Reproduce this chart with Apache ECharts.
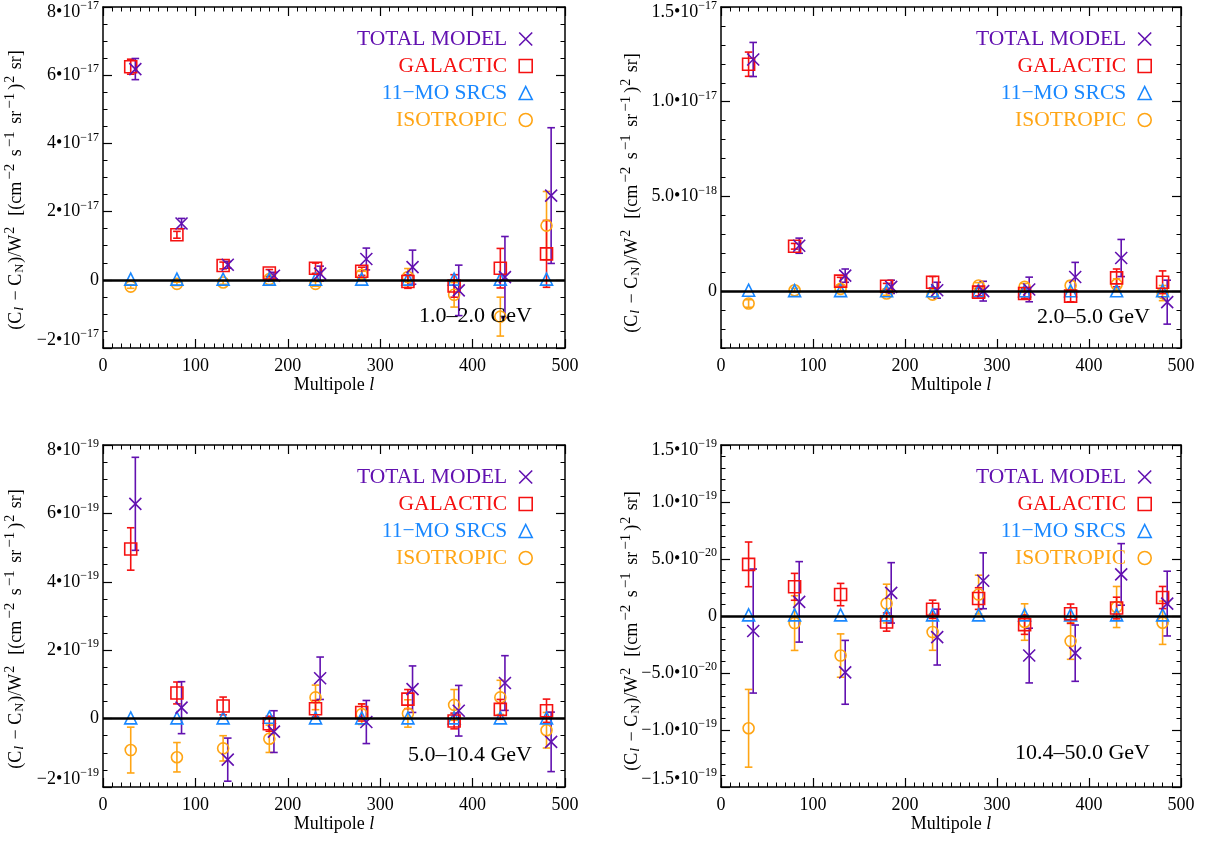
<!DOCTYPE html>
<html>
<head>
<meta charset="utf-8">
<script src="https://cdn.jsdelivr.net/npm/echarts@6/dist/echarts.min.js"></script>
<style>html,body{margin:0;padding:0;background:#fff}#c{width:1218px;height:842px}</style>
</head>
<body>
<div id="c"></div>
<script>
// ---------------- DATA ----------------
const lBins  = [30, 80, 130, 180, 230, 280, 330, 380, 430, 480];
const lTotal = [35, 85, 135, 185, 235, 285, 335, 385, 435, 485];

// Panel 1: 1.0-2.0 GeV, values in units of 1e-17
const tl_total    = [6.18, 1.65, 0.44, 0.12, 0.18, 0.61, 0.37, -0.31, 0.08, 2.47];
const tl_totalErr = [0.31, 0.15, 0.10, 0.10, 0.22, 0.32, 0.50, 0.74, 1.19, 1.99];
const tl_gal      = [6.25, 1.32, 0.42, 0.20, 0.34, 0.25, -0.05, -0.18, 0.34, 0.76];
const tl_galErr   = [0.22, 0.10, 0.10, 0.10, 0.15, 0.12, 0.20, 0.33, 0.58, 0.98];
const tl_src      = [0.02, 0.02, 0.02, 0.02, 0.02, 0.02, 0.02, 0.02, 0.02, 0.02];
const tl_iso      = [-0.20, -0.12, -0.08, 0.02, -0.12, 0.15, 0.08, -0.44, -1.08, 1.59];
const tl_isoErr   = [0.05, 0.05, 0.05, 0.06, 0.07, 0.10, 0.25, 0.36, 0.57, 1.00];
const tl_yTicks   = [-2, 0, 2, 4, 6, 8];
const tl_yLabels  = ['−2•10^−17', '0', '2•10^−17', '4•10^−17', '6•10^−17', '8•10^−17'];

// Panel 2: 2.0-5.0 GeV, units of 1e-18
const tr_total    = [12.23, 2.40, 0.82, 0.23, 0.05, 0.00, 0.09, 0.75, 1.75, -0.58];
const tr_totalErr = [0.90, 0.40, 0.35, 0.35, 0.42, 0.52, 0.65, 0.77, 0.98, 1.16];
const tr_gal      = [11.98, 2.37, 0.53, 0.26, 0.47, -0.05, -0.12, -0.26, 0.70, 0.47];
const tr_galErr   = [0.64, 0.15, 0.20, 0.15, 0.30, 0.20, 0.25, 0.30, 0.47, 0.60];
const tr_src      = [0.05, 0.03, 0.03, 0.02, 0.02, 0.02, 0.02, 0.02, 0.02, 0.02];
const tr_iso      = [-0.65, 0.05, 0.12, -0.12, -0.18, 0.30, 0.23, 0.30, 0.35, -0.10];
const tr_isoErr   = [0.20, 0.10, 0.10, 0.10, 0.12, 0.15, 0.18, 0.25, 0.30, 0.40];
const tr_yTicks   = [0, 5, 10, 15];
const tr_yLabels  = ['0', '5.0•10^−18', '1.0•10^−17', '1.5•10^−17'];

// Panel 3: 5.0-10.4 GeV, units of 1e-19
const bl_total    = [6.28, 0.32, -1.20, -0.38, 1.18, -0.10, 0.86, 0.23, 1.04, -0.68];
const bl_totalErr = [1.36, 0.76, 0.63, 0.61, 0.62, 0.63, 0.68, 0.74, 0.80, 0.87];
const bl_gal      = [4.96, 0.75, 0.37, -0.15, 0.29, 0.18, 0.57, -0.07, 0.27, 0.23];
const bl_galErr   = [0.62, 0.32, 0.26, 0.22, 0.24, 0.25, 0.28, 0.23, 0.29, 0.34];
const bl_src      = [0.02, 0.02, 0.02, 0.04, 0.02, 0.02, 0.02, 0.02, 0.02, 0.02];
const bl_iso      = [-0.92, -1.13, -0.87, -0.59, 0.62, 0.13, 0.15, 0.40, 0.62, -0.34];
const bl_isoErr   = [0.67, 0.43, 0.37, 0.40, 0.36, 0.30, 0.40, 0.45, 0.50, 0.52];
const bl_yTicks   = [-2, 0, 2, 4, 6, 8];
const bl_yLabels  = ['−2•10^−19', '0', '2•10^−19', '4•10^−19', '6•10^−19', '8•10^−19'];

// Panel 4: 10.4-50.0 GeV, units of 1e-20
const br_total    = [-1.32, 1.24, -4.94, 2.03, -1.85, 3.09, -3.47, -3.26, 3.65, 1.09];
const br_totalErr = [5.44, 3.53, 2.80, 2.65, 2.45, 2.45, 2.40, 2.47, 2.70, 2.84];
const br_gal      = [4.53, 2.56, 1.88, -0.53, 0.59, 1.53, -0.76, 0.20, 0.70, 1.62];
const br_galErr   = [1.96, 1.18, 0.98, 0.80, 0.80, 0.95, 0.85, 0.85, 0.95, 0.97];
const br_src      = [0.10, 0.10, 0.10, 0.10, 0.10, 0.10, 0.10, 0.10, 0.10, 0.10];
const br_iso      = [-9.85, -0.62, -3.47, 1.09, -1.41, 1.88, -0.53, -2.20, 0.79, -0.59];
const br_isoErr   = [3.41, 2.40, 1.90, 1.70, 1.60, 1.70, 1.60, 1.60, 1.80, 1.90];
const br_yTicks   = [-15, -10, -5, 0, 5, 10, 15];
const br_yLabels  = ['−1.5•10^−19', '−1.0•10^−19', '−5.0•10^−20', '0', '5.0•10^−20', '1.0•10^−19', '1.5•10^−19'];

const xTicks = [0, 100, 200, 300, 400, 500];
const seriesNames = ['TOTAL MODEL', 'GALACTIC', '11−MO SRCS', 'ISOTROPIC'];
const energyLabels = ['1.0–2.0 GeV', '2.0–5.0 GeV', '5.0–10.4 GeV', '10.4–50.0 GeV'];
const yTitle = '(C{subl|l} − C{sub|N})/W{sup2|2}  [(cm{sup|−2} s{sup|−1} sr{sup|−1}){sup2|2} sr]';
const xTitle = 'Multipole {it|l}';

// ---------------- STYLE / LAYOUT ----------------
const FONT = 'Liberation Serif';
const COL = {total: '#6211b0', gal: '#f51111', src: '#1a88ff', iso: '#ffa514'};
const XSYM = 'path://M0,0L10,10M10,0L0,10';

const panels = [
  {grid: {left: 103, top: 7, width: 462, height: 341}, ymin: -2, ymax: 8, ystep: 0.5,
   ticks: tl_yTicks, labels: tl_yLabels, total: tl_total, totalErr: tl_totalErr, gal: tl_gal, galErr: tl_galErr,
   src: tl_src, iso: tl_iso, isoErr: tl_isoErr, legendRight: 685, legendTop: 28, eX: 532, eY: 316, nX: 16, nY: 190},
  {grid: {left: 721, top: 7, width: 460, height: 341}, ymin: -3, ymax: 15, ystep: 1,
   ticks: tr_yTicks, labels: tr_yLabels, total: tr_total, totalErr: tr_totalErr, gal: tr_gal, galErr: tr_galErr,
   src: tr_src, iso: tr_iso, isoErr: tr_isoErr, legendRight: 66, legendTop: 28, eX: 1150, eY: 317, nX: 632, nY: 193},
  {grid: {left: 103, top: 445, width: 462, height: 342}, ymin: -2, ymax: 8, ystep: 0.5,
   ticks: bl_yTicks, labels: bl_yLabels, total: bl_total, totalErr: bl_totalErr, gal: bl_gal, galErr: bl_galErr,
   src: bl_src, iso: bl_iso, isoErr: bl_isoErr, legendRight: 685, legendTop: 466, eX: 532, eY: 755, nX: 16, nY: 629},
  {grid: {left: 721, top: 445, width: 460, height: 342}, ymin: -15, ymax: 15, ystep: 1,
   ticks: br_yTicks, labels: br_yLabels, total: br_total, totalErr: br_totalErr, gal: br_gal, galErr: br_galErr,
   src: br_src, iso: br_iso, isoErr: br_isoErr, legendRight: 66, legendTop: 466, eX: 1150, eY: 753, nX: 632, nY: 631}
];

function toRich(s, pos) {
  const p = s.split('^');
  if (p.length < 2) return s;
  const suf = pos === 'top' ? 't' : (pos === 'bottom' ? 'b' : '');
  return '{b' + suf + '|' + p[0] + '}{sup' + suf + '|' + p[1] + '}';
}

const grids = [], xAxes = [], yAxes = [], series = [], legends = [], graphics = [];
const axisLineStyle = {color: '#000', width: 1.5};

function errSeries(xs, ys, es, color, xi, yi) {
  return {
    type: 'custom', xAxisIndex: xi, yAxisIndex: yi, clip: true, silent: true, z: 3,
    data: xs.map((x, i) => [x, ys[i], es[i]]),
    renderItem: function (params, api) {
      const x = api.value(0), y = api.value(1), e = api.value(2);
      const t = api.coord([x, y + e]), b = api.coord([x, y - e]);
      const cw = 3.8;
      const st = {stroke: color, lineWidth: 1.6};
      return {type: 'group', children: [
        {type: 'line', shape: {x1: t[0], y1: t[1], x2: b[0], y2: b[1]}, style: st},
        {type: 'line', shape: {x1: t[0] - cw, y1: t[1], x2: t[0] + cw, y2: t[1]}, style: st},
        {type: 'line', shape: {x1: b[0] - cw, y1: b[1], x2: b[0] + cw, y2: b[1]}, style: st}
      ]};
    }
  };
}

function scatter(name, xs, ys, symbol, size, color, xi, yi, extra) {
  return Object.assign({
    type: 'scatter', name: name, xAxisIndex: xi, yAxisIndex: yi, z: 4,
    symbol: symbol, symbolSize: size,
    itemStyle: {color: 'rgba(0,0,0,0)', borderColor: color, borderWidth: 1.6, opacity: 1},
    emphasis: {disabled: true},
    data: xs.map((x, i) => [x, ys[i]])
  }, extra || {});
}

// rich tokens are all centred on the line; padding shifts them up (bottom pad) or down (top pad)
const tk = (size, pad, extra) => Object.assign({fontFamily: FONT, fontSize: size, color: '#000', lineHeight: size, padding: pad}, extra || {});
const labelRich = {
  b: tk(18, [0, 0, 0, 0]),   sup: tk(12, [0, 0, 12, 0]),
  bt: tk(18, [10, 0, 0, 0]), supt: tk(12, [0, 0, 2, 0]),
  bb: tk(18, [0, 0, 16, 0]), supb: tk(12, [0, 0, 28, 0])
};
const nameRich = {
  sup: tk(15, [0, 3, 11, 2]),
  sup2: tk(14, [0, 2, 11, 1]),
  sub: tk(12.5, [7, 1, 0, 1]),
  subl: tk(13.5, [7, 2, 0, 1], {fontStyle: 'italic'})
};

panels.forEach((p, i) => {
  grids.push(Object.assign({containLabel: false, outerBoundsMode: 'none'}, p.grid));
  // x axes: bottom and top
  const xBase = {
    type: 'value', gridIndex: i, min: 0, max: 500, interval: 100,
    axisLine: {show: true, onZero: false, lineStyle: axisLineStyle},
    axisTick: {show: true, inside: true, length: 9, lineStyle: {color: '#000', width: 1.2}},
    minorTick: {show: true, splitNumber: 10, length: 4.5, lineStyle: {color: '#000', width: 1}},
    splitLine: {show: false}
  };
  xAxes.push(Object.assign({}, xBase, {
    position: 'bottom',
    axisLabel: {show: true, margin: 9, fontFamily: FONT, fontSize: 18, color: '#000',
      formatter: v => String(xTicks[xTicks.indexOf(v)])},
    name: xTitle, nameLocation: 'middle', nameGap: 28,
    nameTextStyle: {fontFamily: FONT, fontSize: 18, color: '#000',
      rich: {it: {fontFamily: FONT, fontSize: 18, fontStyle: 'italic', color: '#000'}}}
  }));
  xAxes.push(Object.assign({}, xBase, {position: 'top', axisLabel: {show: false}}));

  // y axes: left major, left minor, right major, right minor
  const yBase = {type: 'value', gridIndex: i, min: p.ymin, max: p.ymax, interval: p.ystep, splitLine: {show: false}};
  const major = {show: true, inside: true, length: 9, customValues: p.ticks, lineStyle: {color: '#000', width: 1.2}};
  const minor = {show: true, inside: true, length: 4.5, lineStyle: {color: '#000', width: 1}};
  yAxes.push(Object.assign({}, yBase, {
    position: 'left',
    axisLine: {show: true, onZero: false, lineStyle: axisLineStyle},
    axisTick: major,
    axisLabel: {show: true, customValues: p.ticks, margin: 4, fontFamily: FONT, fontSize: 18, color: '#000',
      showMinLabel: true, showMaxLabel: true,
      formatter: v => {
        const k = p.ticks.findIndex(t => Math.abs(t - v) < 1e-9);
        if (k < 0) return '';
        const pos = Math.abs(v - p.ymax) < 1e-9 ? 'top' : (Math.abs(v - p.ymin) < 1e-9 ? 'bottom' : '');
        return toRich(p.labels[k], pos);
      },
      rich: labelRich}
  }));
  yAxes.push(Object.assign({}, yBase, {position: 'left', axisLine: {show: false, onZero: false}, axisTick: minor, axisLabel: {show: false}}));
  yAxes.push(Object.assign({}, yBase, {position: 'right', axisLine: {show: true, onZero: false, lineStyle: axisLineStyle}, axisTick: major, axisLabel: {show: false}}));
  yAxes.push(Object.assign({}, yBase, {position: 'right', axisLine: {show: false, onZero: false}, axisTick: minor, axisLabel: {show: false}}));

  const xi = 2 * i, yi = 4 * i;
  series.push(errSeries(lBins, p.iso, p.isoErr, COL.iso, xi, yi));
  series.push(errSeries(lBins, p.gal, p.galErr, COL.gal, xi, yi));
  series.push(errSeries(lTotal, p.total, p.totalErr, COL.total, xi, yi));
  series.push(scatter(seriesNames[3], lBins, p.iso, 'circle', 11, COL.iso, xi, yi));
  series.push(scatter(seriesNames[2], lBins, p.src, 'triangle', 12, COL.src, xi, yi));
  series.push(scatter(seriesNames[1], lBins, p.gal, 'rect', 12, COL.gal, xi, yi, {
    markLine: {silent: true, symbol: 'none', label: {show: false}, animation: false,
      lineStyle: {color: '#000', width: 2.6, type: 'solid'}, emphasis: {disabled: true},
      data: [{yAxis: 0}]}
  }));
  series.push(scatter(seriesNames[0], lTotal, p.total, XSYM, 12, COL.total, xi, yi));

  legends.push({
    orient: 'vertical', align: 'right', right: p.legendRight, top: p.legendTop, padding: 0,
    itemWidth: 13, itemHeight: 13, itemGap: 5, selectedMode: false,
    textStyle: {fontFamily: FONT, fontSize: 21.5, padding: [0, 7, 0, 0]},
    data: [
      {name: seriesNames[0], icon: XSYM, textStyle: {color: COL.total},
       itemStyle: {color: 'rgba(0,0,0,0)', borderColor: COL.total, borderWidth: 1.6}},
      {name: seriesNames[1], icon: 'rect', textStyle: {color: COL.gal},
       itemStyle: {color: 'rgba(0,0,0,0)', borderColor: COL.gal, borderWidth: 1.6}},
      {name: seriesNames[2], icon: 'triangle', textStyle: {color: COL.src},
       itemStyle: {color: 'rgba(0,0,0,0)', borderColor: COL.src, borderWidth: 1.6}},
      {name: seriesNames[3], icon: 'circle', textStyle: {color: COL.iso},
       itemStyle: {color: 'rgba(0,0,0,0)', borderColor: COL.iso, borderWidth: 1.6}}
    ]
  });

  graphics.push({type: 'text', x: p.eX, y: p.eY, z: 10,
    style: {text: energyLabels[i], fontFamily: FONT, fontSize: 22, fill: '#000', align: 'right', verticalAlign: 'middle'}});
  graphics.push({type: 'text', x: p.nX, y: p.nY, rotation: Math.PI / 2, z: 10,
    style: {text: yTitle, fontFamily: FONT, fontSize: 18, fill: '#000', align: 'center', verticalAlign: 'middle', rich: nameRich}});
});

const chart = echarts.init(document.getElementById('c'), null, {renderer: 'canvas'});
chart.setOption({
  animation: false,
  backgroundColor: '#fff',
  grid: grids, xAxis: xAxes, yAxis: yAxes, series: series, legend: legends,
  graphic: {elements: graphics}
});
</script>
</body>
</html>
